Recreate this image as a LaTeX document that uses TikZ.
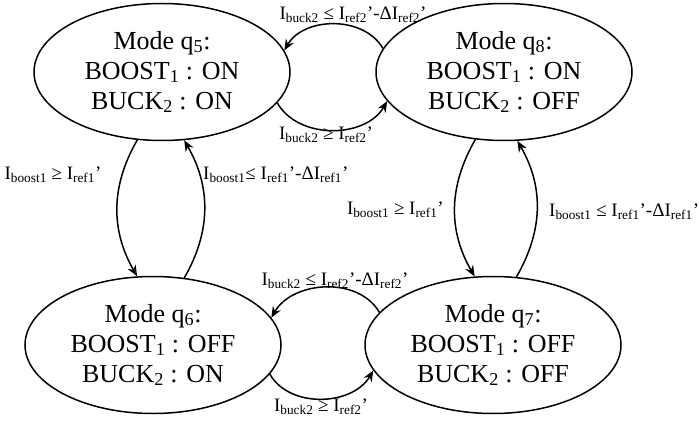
\documentclass[tikz,border=0pt]{standalone}
\usepackage{fontspec}
\setmainfont{Liberation Serif}
\usetikzlibrary{arrows.meta,shapes.geometric}

\begin{document}
\begin{tikzpicture}[x=1pt,y=1pt,
  md/.style={ellipse,draw=black,line width=1.5pt,minimum width=256pt,minimum height=137pt,
    inner sep=0pt,align=center,font=\fontsize{26}{30}\selectfont},
  lb/.style={inner sep=0pt,font=\fontsize{19}{22}\selectfont},
  tr/.style={line width=1.5pt,-{Stealth[length=11pt,width=9pt]}}]
  \useasboundingbox (0,0) rectangle (699,421);
  % the four modes
  \foreach \n/\x/\y/\s/\t in {5/162/349/ON/ON,8/504/349/ON/OFF,6/153/76/OFF/ON,7/493/76/OFF/OFF} {
    \node[md] (q\n) at (\x,\y) {Mode q\textsubscript{\n}:\\BOOST\textsubscript{1} : \s\\BUCK\textsubscript{2} : \t};
  }
  % transitions
  \draw[tr] (q8.169) to[out=120,in=60] (q5.10);
  \draw[tr] (q5.-15) to[out=-60,in=-120] (q8.194);
  \draw[tr] (q5.250) to[out=240,in=120] (q6.103);
  \draw[tr] (q6.65) to[out=60,in=300] (q5.288);
  \draw[tr] (q8.247) to[out=240,in=120] (q7.105);
  \draw[tr] (q7.71) to[out=60,in=300] (q8.281);
  \draw[tr] (q7.164) to[out=120,in=60] (q6.13);
  \draw[tr] (q6.-14) to[out=-60,in=-120] (q7.192);
  % guards
  \node[lb] (g85) at (353,406) {I\textsubscript{buck2} ≤ I\textsubscript{ref2}'-ΔI\textsubscript{ref2}'};
  \node[lb] (g58) at (326,286) {I\textsubscript{buck2} ≥ I\textsubscript{ref2}'};
  \node[lb] (g56) at (53,246) {I\textsubscript{boost1} ≥ I\textsubscript{ref1}'};
  \node[lb,anchor=west] (g65) at (203,246) {I\textsubscript{boost1}≤ I\textsubscript{ref1}'-ΔI\textsubscript{ref1}'};
  \node[lb,anchor=east] (g87) at (444,211) {I\textsubscript{boost1} ≥ I\textsubscript{ref1}'};
  \node[lb,anchor=west] (g78) at (549,209) {I\textsubscript{boost1} ≤ I\textsubscript{ref1}'-ΔI\textsubscript{ref1}'};
  \node[lb] (g76) at (335,140) {I\textsubscript{buck2} ≤ I\textsubscript{ref2}'-ΔI\textsubscript{ref2}'};
  \node[lb] (g67) at (321,14) {I\textsubscript{buck2} ≥ I\textsubscript{ref2}'};
\end{tikzpicture}
\end{document}
